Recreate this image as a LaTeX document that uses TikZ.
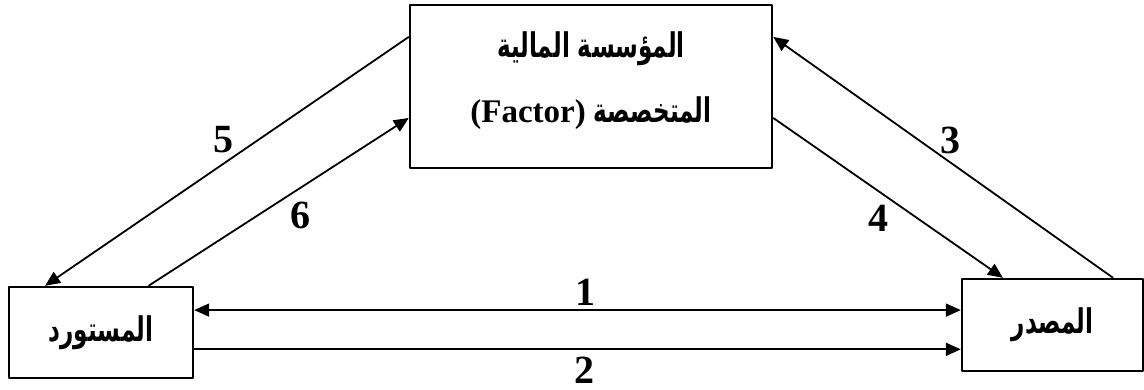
\documentclass[tikz,border=0pt]{standalone}
\usepackage{fontspec}
\setmainfont{Liberation Serif}
\newfontfamily\arabicfont[Script=Arabic, FakeStretch=0.68]{DejaVu Sans}
\TeXXeTstate=1
\usetikzlibrary{arrows.meta,calc}
\begin{document}
\begin{tikzpicture}[x=0.5pt, y=-0.5pt, line join=round, line width=0.9pt,
        >={Triangle[length=7.5pt,width=6.5pt]},
        box/.style={draw, line width=1.2pt, inner sep=0pt},
        num/.style={font=\fontsize{20}{24}\selectfont\bfseries},
        ar/.style={font=\fontsize{17}{32.5}\selectfont\arabicfont\bfseries, align=center}]
    \useasboundingbox (0,0) rectangle (1144,390);
    % boxes
    \node[box, minimum width=181pt, minimum height=81.5pt] (fin) at (591,86.5) {};
    \node[ar] (fintxt) at ([yshift=3pt]fin.center) {\beginR المؤسسة المالية\endR\\ \beginR المتخصصة \beginL{\fontsize{16.5}{32.5}\selectfont\rmfamily(Factor)}\endL\endR};
    \node[box, ar, minimum width=92pt, minimum height=45.5pt] (imp) at (101,332.5) {\beginR المستورد\endR};
    \node[box, ar, minimum width=90.5pt, minimum height=46pt] (exp) at (1052.5,325) {\beginR المصدر\endR};
    % connectors
    \draw[->] ($(fin.north west)!.2!(fin.south west)$) -- ($(imp.north west)!.2!(imp.north east)$);
    \draw[->] ($(imp.north west)!.755!(imp.north east)$) -- ($(fin.north west)!.69!(fin.south west)$);
    \draw[->] ($(exp.north west)!.83!(exp.north east)$) -- ($(fin.north east)!.2!(fin.south east)$);
    \draw[->] ($(fin.north east)!.69!(fin.south east)$) -- ($(exp.north west)!.23!(exp.north east)$);
    \coordinate (a1) at ($(imp.north east)!.26!(imp.south east)$);
    \coordinate (a2) at ($(imp.north east)!.68!(imp.south east)$);
    \draw[<->] (a1) -- (a1 -| exp.west);
    \draw[->] (a2) -- (a2 -| exp.west);
    % numbers
    \node[num] (n1) at (585,292) {1};
    \node[num] (n2) at (584,370) {2};
    \node[num] (n3) at (950,140) {3};
    \node[num] (n4) at (878,218) {4};
    \node[num] (n5) at (223,140) {5};
    \node[num] (n6) at (300,215) {6};
\end{tikzpicture}
\end{document}
